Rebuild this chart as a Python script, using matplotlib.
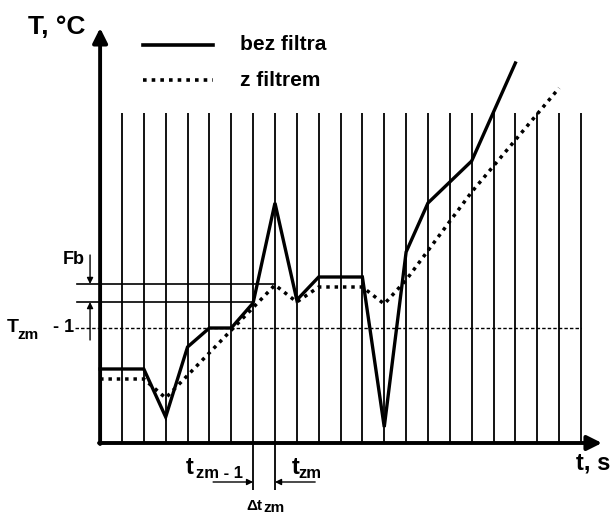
import matplotlib
matplotlib.use('Agg')
import matplotlib.pyplot as plt

# ---- data (t in sampling steps, T in arbitrary units) ----
t_raw = [0, 2, 3, 4, 5, 6, 7, 8, 9, 10, 12, 13, 14, 15, 17, 19]
T_raw = [7.4, 7.4, 2.6, 9.6, 11.5, 11.5, 14.0, 24.0, 14.3, 16.6, 16.6, 1.6, 19.1, 24.0, 28.2, 38.0]

t_filt = [0, 2, 3, 8, 9, 10, 12, 13, 14, 17, 21]
T_filt = [6.4, 6.4, 4.5, 15.8, 14.1, 15.6, 15.6, 13.9, 16.3, 25.1, 35.5]

grid_t = list(range(1, 23))
grid_top = 33.0
T_zm_prev = 11.5
Fb_upper = 15.9
Fb_lower = 14.1
t_zm_prev = 7
t_zm = 8

labels_legend = ['bez filtra', 'z filtrem']

plt.rcParams['font.family'] = ['Liberation Sans', 'DejaVu Sans']
plt.rcParams['font.weight'] = 'bold'

fig = plt.figure(figsize=(6.12, 5.15), dpi=100)
ax = fig.add_axes([0, 0, 1, 1])
ax.set_xlim(-4.58, 23.42)
ax.set_ylim(-7.2, 44.3)
ax.axis('off')

# vertical sampling lines
ax.vlines(grid_t, 0, grid_top, color='black', lw=1.3, zorder=1)

# T_zm - 1 dashed level
ax.plot([-1.14, grid_t[-1]], [T_zm_prev, T_zm_prev], color='black', lw=1.0,
        dashes=(2.5, 1.5), zorder=2)

# Fb band lines
ax.plot([-1.05, t_zm], [Fb_upper, Fb_upper], color='black', lw=1.2, zorder=2)
ax.plot([-1.05, t_zm_prev], [Fb_lower, Fb_lower], color='black', lw=1.2, zorder=2)

# Fb arrows
ax.annotate('', xy=(-0.46, Fb_upper), xytext=(-0.46, 18.8),
            arrowprops=dict(arrowstyle='-|>', lw=1.0, color='black',
                            mutation_scale=9, shrinkA=0, shrinkB=0))
ax.annotate('', xy=(-0.46, Fb_lower), xytext=(-0.46, 10.3),
            arrowprops=dict(arrowstyle='-|>', lw=1.0, color='black',
                            mutation_scale=9, shrinkA=0, shrinkB=0))

# data lines
ax.plot(t_raw, T_raw, color='black', lw=2.4, solid_joinstyle='miter', zorder=4)
ax.plot(t_filt, T_filt, color='black', lw=2.5, dashes=(1, 1.4), zorder=3)

# axes with arrows
ax.annotate('', xy=(22.96, 0), xytext=(-0.05, 0),
            arrowprops=dict(arrowstyle='-|>', lw=2.8, color='black',
                            mutation_scale=22, shrinkA=0, shrinkB=0), zorder=5)
ax.annotate('', xy=(0, 41.5), xytext=(0, -0.1),
            arrowprops=dict(arrowstyle='-|>', lw=2.8, color='black',
                            mutation_scale=22, shrinkA=0, shrinkB=0), zorder=5)

# bottom markers for t_zm-1 and t_zm
ax.vlines([t_zm_prev, t_zm], -4.7, 0, color='black', lw=1.3)
ax.annotate('', xy=(t_zm_prev, -3.9), xytext=(5.17, -3.9),
            arrowprops=dict(arrowstyle='-|>', lw=1.0, color='black',
                            mutation_scale=9, shrinkA=0, shrinkB=0))
ax.annotate('', xy=(t_zm, -3.9), xytext=(9.84, -3.9),
            arrowprops=dict(arrowstyle='-|>', lw=1.0, color='black',
                            mutation_scale=9, shrinkA=0, shrinkB=0))

# legend
ax.plot([1.97, 5.17], [39.8, 39.8], color='black', lw=2.6)
ax.plot([1.97, 5.17], [36.3, 36.3], color='black', lw=2.6, dashes=(1, 1.4))
ax.text(6.4, 39.8, labels_legend[0], fontsize=15, fontweight='bold', va='center', ha='left')
ax.text(6.4, 36.3, labels_legend[1], fontsize=15, fontweight='bold', va='center', ha='left')

# axis labels
ax.text(-1.97, 41.6, 'T, °C', fontsize=19, fontweight='bold', ha='center', va='center')
ax.text(22.55, -2.0, 't, s', fontsize=17, fontweight='bold', ha='center', va='center')

# Fb label
ax.text(-1.19, 18.3, 'Fb', fontsize=13, fontweight='bold', ha='center', va='center')

# T_zm - 1 label
ax.text(-3.98, 11.6, 'T', fontsize=14, fontweight='bold', ha='center', va='center')
ax.text(-3.29, 10.8, 'zm', fontsize=11, fontweight='bold', ha='center', va='center')
ax.text(-1.69, 11.6, '- 1', fontsize=13, fontweight='bold', ha='center', va='center')

# t_zm - 1 label
ax.text(4.12, -2.4, 't', fontsize=17, fontweight='bold', ha='center', va='center')
ax.text(5.45, -3.0, 'zm - 1', fontsize=12, fontweight='bold', ha='center', va='center')

# t_zm label
ax.text(8.97, -2.4, 't', fontsize=17, fontweight='bold', ha='center', va='center')
ax.text(9.62, -3.0, 'zm', fontsize=12, fontweight='bold', ha='center', va='center')

# delta t_zm label
ax.text(7.05, -6.3, 'Δt', fontsize=11, fontweight='bold', ha='center', va='center')
ax.text(7.95, -6.5, 'zm', fontsize=11, fontweight='bold', ha='center', va='center')

fig.savefig('out.png', dpi=100)
